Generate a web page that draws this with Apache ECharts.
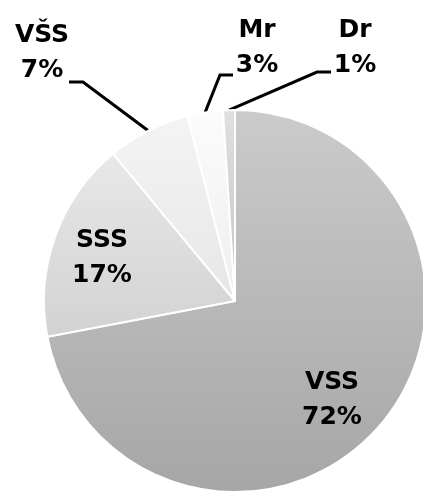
<!DOCTYPE html>
<html>
<head>
<meta charset="UTF-8">
<script src="https://cdn.jsdelivr.net/npm/echarts@6.0.0/dist/echarts.min.js"></script>
<style>
  html, body { margin: 0; padding: 0; background: #fff; }
  #chart { width: 423px; height: 494px; }
</style>
</head>
<body>
<div id="chart"></div>
<script>
    // data
    const names = ['VSS', 'SSS', 'VŠS', 'Mr', 'Dr'];
    const values = [72, 17, 7, 3, 1];
    const shades = [
        ['#cbcbcb', '#a6a6a6'],
        ['#e8e8e8', '#d2d2d2'],
        ['#f4f4f4', '#e6e6e6'],
        ['#fcfcfc', '#eeeeee'],
        ['#e0e0e0', '#c4c4c4']
    ];
    // where each label sits (centre of text block) and where its line bends
    const labelSpots = [
        {x: 332, y: 400},
        {x: 102, y: 258},
        {x: 42, y: 53, bend: [83, 82], tail: [69, 82]},
        {x: 257, y: 48, bend: [220, 75], tail: [233, 75]},
        {x: 355, y: 48, bend: [317, 72], tail: [331, 72]}
    ];

    function grad(c) {
        return {
            type: 'linear', x: 0, y: 0, x2: 0, y2: 1,
            colorStops: [{offset: 0, color: c[0]}, {offset: 1, color: c[1]}]
        };
    }

    const data = names.map((n, i) => ({
        name: n,
        value: values[i],
        itemStyle: {color: grad(shades[i])},
        labelLine: {show: i >= 2}
    }));

    const chart = echarts.init(document.getElementById('chart'));
    chart.setOption({
        animation: false,
        series: [{
            type: 'pie',
            center: [235, 301],
            radius: 191,
            startAngle: 90,
            clockwise: true,
            avoidLabelOverlap: false,
            data,
            itemStyle: {borderColor: '#ffffff', borderWidth: 2},
            label: {
                position: 'outside',
                formatter: '{b}\n{d}%',
                color: '#000',
                fontFamily: 'DejaVu Sans',
                fontWeight: 'bold',
                fontSize: 25,
                lineHeight: 35,
                align: 'center',
                overflow: 'none'
            },
            labelLine: {
                lineStyle: {color: '#000', width: 3},
                length: 10,
                length2: 10
            },
            labelLayout: function (params) {
                const s = labelSpots[params.dataIndex];
                const out = {x: s.x, y: s.y, align: 'center', verticalAlign: 'middle', hideOverlap: false};
                if (s.bend && params.labelLinePoints) {
                    out.labelLinePoints = [params.labelLinePoints[0], s.bend, s.tail];
                }
                return out;
            }
        }]
    });
</script>
</body>
</html>
